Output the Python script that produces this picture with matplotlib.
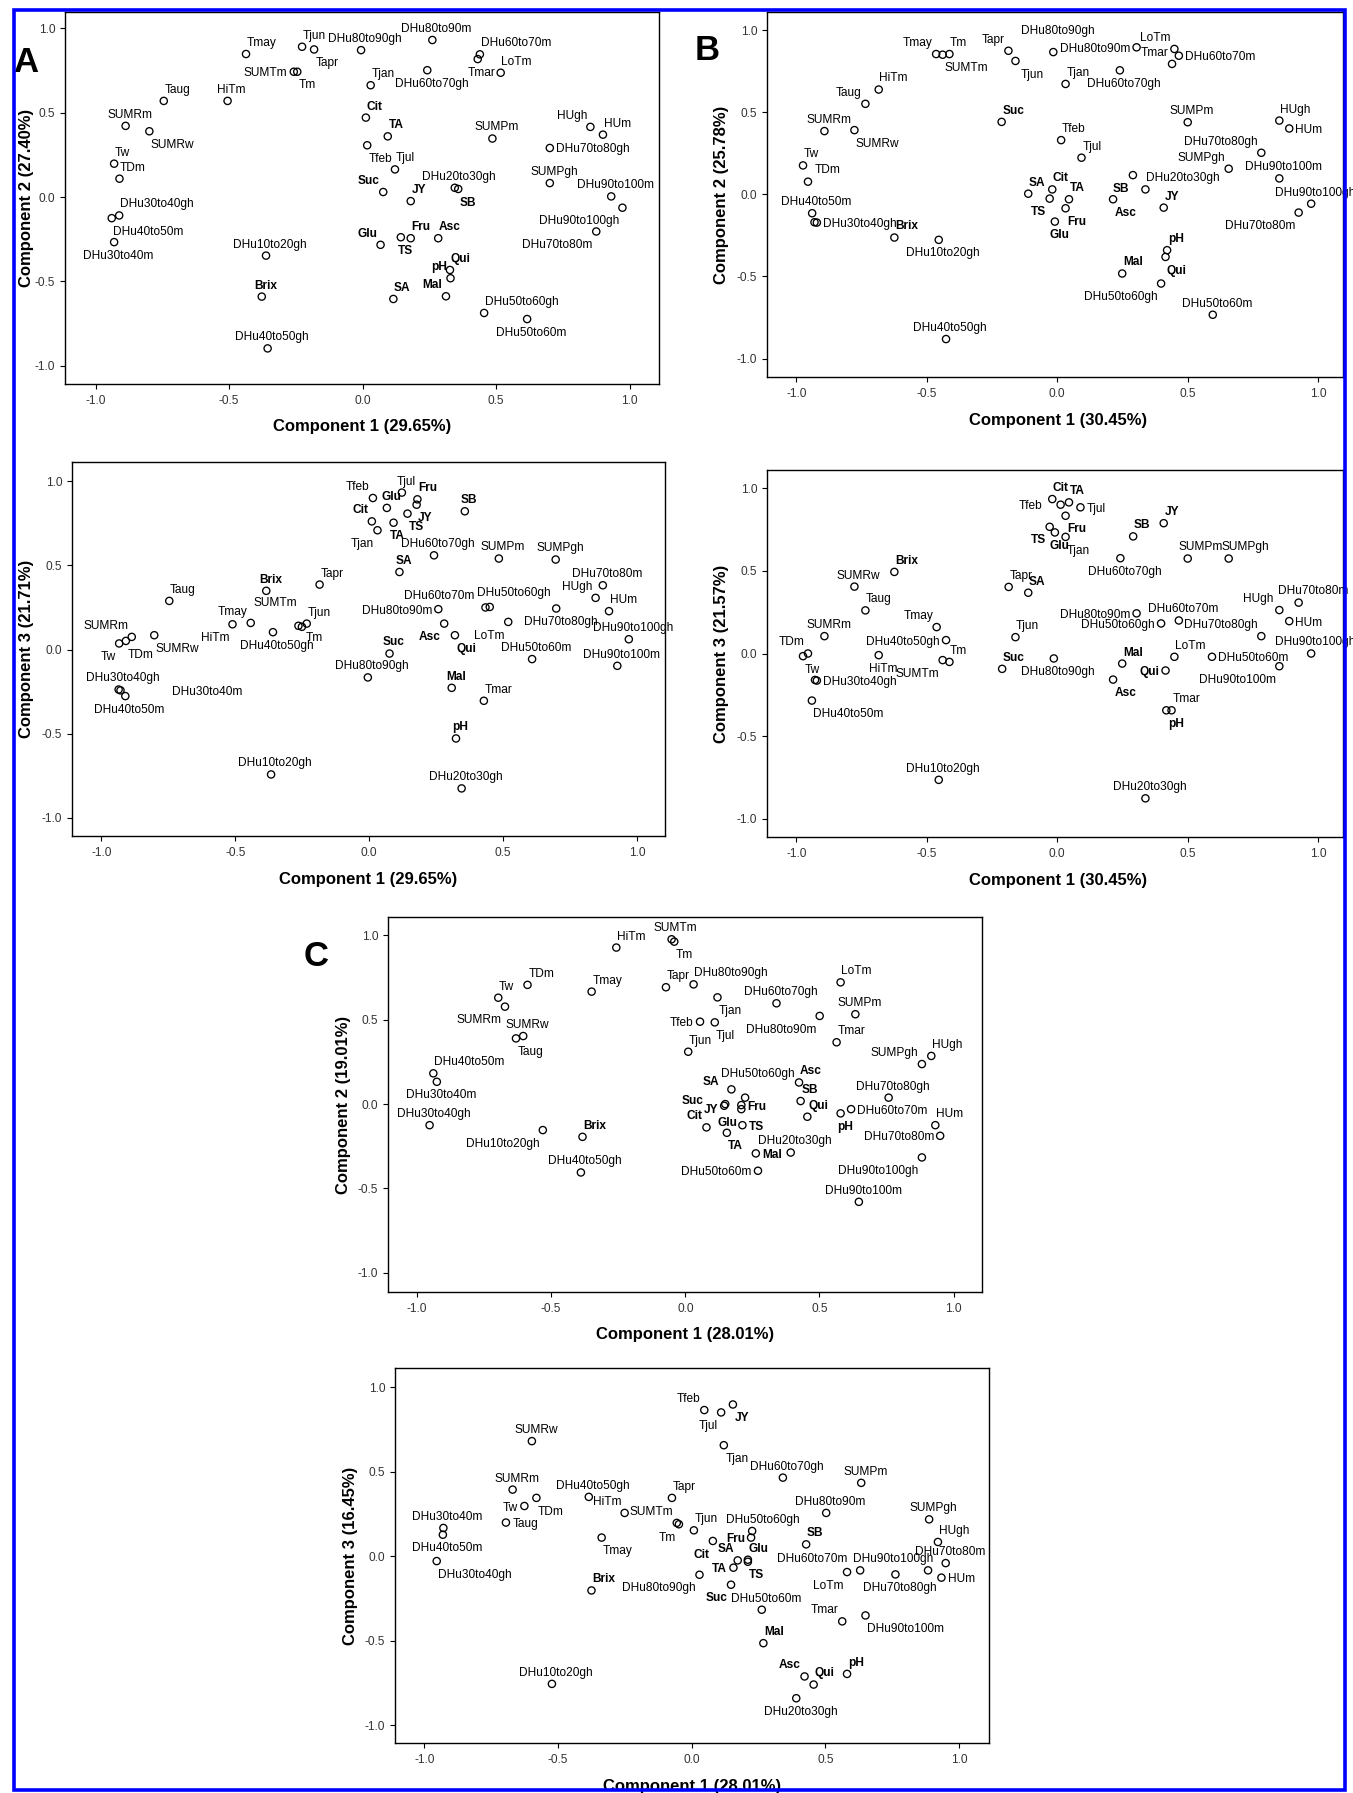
import matplotlib
matplotlib.use('Agg')
import matplotlib.pyplot as plt
from matplotlib.patches import Rectangle

W, H = 1353, 1793
plt.rcParams['font.family'] = ['Liberation Sans', 'DejaVu Sans']

names = ['Tjan', 'Tfeb', 'Tmar', 'Tapr', 'Tmay', 'Tjun', 'Tjul', 'Taug', 'Tm', 'Tw',
         'TDm', 'HiTm', 'LoTm', 'SUMTm', 'SUMRm', 'SUMRw', 'SUMPm', 'SUMPgh', 'HUm', 'HUgh',
         'DHu10to20gh', 'DHu20to30gh', 'DHu30to40m', 'DHu30to40gh', 'DHu40to50m',
         'DHu40to50gh', 'DHu50to60m', 'DHu50to60gh', 'DHu60to70m', 'DHu60to70gh',
         'DHu70to80m', 'DHu70to80gh', 'DHu80to90m', 'DHu80to90gh', 'DHu90to100m',
         'DHu90to100gh', 'Brix', 'TS', 'Glu', 'Fru', 'Suc', 'SB', 'TA', 'Cit', 'Mal',
         'Qui', 'Asc', 'SA', 'pH', 'JY']
bold = {'Brix', 'TS', 'Glu', 'Fru', 'Suc', 'SB', 'TA', 'Cit', 'Mal', 'Qui', 'Asc', 'SA', 'pH', 'JY'}

# --- A: component 1 vs component 2 / component 3
a1_x = [0.030, 0.017, 0.431, -0.182, -0.437, -0.227, 0.121, -0.745, -0.245, -0.931,
        -0.911, -0.506, 0.517, -0.258, -0.888, -0.799, 0.486, 0.701, 0.900, 0.853,
        -0.362, 0.345, -0.931, -0.912, -0.940, -0.356, 0.616, 0.455, 0.439, 0.242,
        0.875, 0.701, 0.261, -0.006, 0.931, 0.973, -0.378, 0.143, 0.067, 0.180,
        0.077, 0.358, 0.094, 0.012, 0.312, 0.327, 0.283, 0.115, 0.329, 0.180]
a1_y = [0.663, 0.307, 0.818, 0.875, 0.848, 0.891, 0.164, 0.570, 0.743, 0.198,
        0.109, 0.570, 0.737, 0.743, 0.422, 0.390, 0.347, 0.083, 0.370, 0.416,
        -0.347, 0.055, -0.267, -0.109, -0.125, -0.897, -0.723, -0.687, 0.846, 0.752,
        -0.204, 0.291, 0.931, 0.871, 0.004, -0.063, -0.590, -0.238, -0.283, -0.244,
        0.030, 0.048, 0.360, 0.471, -0.588, -0.432, -0.244, -0.604, -0.481, -0.024]
a2_x = [0.031, 0.014, 0.428, -0.185, -0.442, -0.233, 0.122, -0.746, -0.251, -0.933,
        -0.908, -0.510, 0.519, -0.264, -0.886, -0.802, 0.484, 0.696, 0.895, 0.845,
        -0.366, 0.345, -0.928, -0.935, -0.910, -0.359, 0.608, 0.450, 0.434, 0.242,
        0.872, 0.698, 0.258, -0.005, 0.926, 0.969, -0.384, 0.143, 0.066, 0.180,
        0.076, 0.357, 0.091, 0.010, 0.308, 0.320, 0.280, 0.113, 0.324, 0.177]
a2_y = [0.709, 0.901, -0.305, 0.386, 0.158, 0.154, 0.933, 0.289, 0.135, 0.036,
        0.051, 0.150, 0.164, 0.141, 0.075, 0.085, 0.541, 0.535, 0.228, 0.307,
        -0.743, -0.826, -0.243, -0.238, -0.277, 0.103, -0.057, 0.253, 0.250, 0.560,
        0.382, 0.244, 0.240, -0.166, -0.097, 0.061, 0.349, 0.808, 0.842, 0.893,
        -0.024, 0.822, 0.754, 0.762, -0.228, 0.085, 0.154, 0.461, -0.529, 0.861]

# --- B
b1_x = [0.032, 0.015, 0.440, -0.187, -0.464, -0.160, 0.093, -0.735, -0.413, -0.974,
        -0.955, -0.684, 0.449, -0.439, -0.892, -0.777, 0.500, 0.657, 0.889, 0.851,
        -0.454, 0.338, -0.930, -0.921, -0.939, -0.426, 0.596, 0.398, 0.466, 0.240,
        0.925, 0.782, 0.304, -0.015, 0.851, 0.973, -0.624, -0.029, -0.009, 0.032,
        -0.213, 0.290, 0.045, -0.019, 0.249, 0.415, 0.214, -0.111, 0.421, 0.408]
b1_y = [0.672, 0.330, 0.794, 0.874, 0.854, 0.812, 0.223, 0.551, 0.854, 0.176,
        0.077, 0.638, 0.885, 0.850, 0.385, 0.391, 0.439, 0.156, 0.401, 0.449,
        -0.277, 0.030, -0.170, -0.172, -0.115, -0.881, -0.733, -0.543, 0.844, 0.755,
        -0.111, 0.253, 0.895, 0.866, 0.097, -0.057, -0.263, -0.026, -0.166, -0.085,
        0.441, 0.117, -0.030, 0.030, -0.482, -0.381, -0.030, 0.004, -0.340, -0.081]
b2_x = [0.032, 0.013, 0.438, -0.186, -0.462, -0.160, 0.089, -0.735, -0.413, -0.974,
        -0.955, -0.684, 0.449, -0.439, -0.892, -0.777, 0.500, 0.657, 0.889, 0.851,
        -0.454, 0.338, -0.928, -0.921, -0.940, -0.426, 0.593, 0.398, 0.466, 0.242,
        0.925, 0.782, 0.304, -0.013, 0.851, 0.973, -0.624, -0.029, -0.009, 0.032,
        -0.211, 0.291, 0.045, -0.019, 0.249, 0.415, 0.214, -0.111, 0.418, 0.408]
b2_y = [0.706, 0.901, -0.344, 0.403, 0.160, 0.099, 0.885, 0.261, -0.051, -0.016,
        0.000, -0.010, -0.020, -0.040, 0.105, 0.405, 0.575, 0.575, 0.196, 0.263,
        -0.765, -0.877, -0.160, -0.164, -0.285, 0.081, -0.020, 0.182, 0.200, 0.577,
        0.308, 0.105, 0.243, -0.030, -0.077, 0.000, 0.494, 0.767, 0.733, 0.834,
        -0.093, 0.709, 0.915, 0.935, -0.061, -0.103, -0.158, 0.368, -0.344, 0.789]

# --- C
c1_x = [0.120, 0.055, 0.564, -0.072, -0.349, 0.011, 0.110, -0.631, -0.041, -0.697,
        -0.588, -0.257, 0.579, -0.051, -0.672, -0.604, 0.634, 0.882, 0.932, 0.917,
        -0.531, 0.393, -0.926, -0.953, -0.939, -0.389, 0.271, 0.223, 0.618, 0.340,
        0.950, 0.758, 0.501, 0.031, 0.647, 0.882, -0.383, 0.213, 0.209, 0.209,
        0.145, 0.430, 0.155, 0.079, 0.263, 0.455, 0.424, 0.172, 0.579, 0.149]
c1_y = [0.632, 0.488, 0.366, 0.692, 0.666, 0.310, 0.484, 0.389, 0.962, 0.630,
        0.706, 0.927, 0.721, 0.976, 0.577, 0.403, 0.532, 0.237, -0.125, 0.285,
        -0.154, -0.287, 0.132, -0.125, 0.182, -0.405, -0.395, 0.038, -0.030, 0.597,
        -0.188, 0.038, 0.522, 0.709, -0.579, -0.316, -0.194, -0.125, -0.030, -0.006,
        -0.010, 0.018, -0.170, -0.138, -0.292, -0.075, 0.128, 0.087, -0.055, 0.000]
c2_x = [0.120, 0.047, 0.563, -0.074, -0.337, 0.008, 0.110, -0.695, -0.048, -0.626,
        -0.581, -0.251, 0.581, -0.056, -0.670, -0.598, 0.634, 0.888, 0.934, 0.921,
        -0.523, 0.391, -0.929, -0.954, -0.931, -0.385, 0.262, 0.226, 0.630, 0.341,
        0.950, 0.762, 0.503, 0.029, 0.650, 0.884, -0.375, 0.210, 0.210, 0.222,
        0.147, 0.428, 0.156, 0.079, 0.268, 0.456, 0.422, 0.172, 0.581, 0.154]
c2_y = [0.658, 0.866, -0.385, 0.346, 0.111, 0.154, 0.852, 0.200, 0.190, 0.298,
        0.346, 0.257, -0.093, 0.198, 0.395, 0.682, 0.435, 0.219, -0.126, 0.085,
        -0.755, -0.840, 0.168, -0.028, 0.128, 0.352, -0.316, 0.150, -0.083, 0.466,
        -0.040, -0.107, 0.257, -0.109, -0.350, -0.083, -0.202, -0.032, -0.020, 0.111,
        -0.168, 0.071, -0.067, 0.091, -0.514, -0.759, -0.711, -0.024, -0.696, 0.899]

# label placement (offset points, ha, va)
OFF = {
    'N': (3, 5.8, 'center', 'baseline'),
    'NE': (0.5, 5.8, 'left', 'baseline'),
    'NW': (-2.5, 5.8, 'right', 'baseline'),
    'S': (3, -5.5, 'center', 'top'),
    'SE': (1, -5.5, 'left', 'top'),
    'SW': (-2.5, -5.5, 'right', 'top'),
    'E': (4.5, 0, 'left', 'center_baseline'),
    'W': (-4.5, 0, 'right', 'center_baseline'),
}


def codes(s):
    out = {}
    for tok in s.split():
        n, c = tok.split(':')
        out[n] = c
    return out


a1_lab = codes('Tjan:NE Tfeb:SE Tmar:S Tapr:SE Tmay:NE Tjun:NE Tjul:NE Taug:NE Tm:SE Tw:NE '
               'TDm:NE HiTm:N LoTm:NE SUMTm:W SUMRm:N SUMRw:SE SUMPm:N SUMPgh:N HUm:NE HUgh:NW '
               'DHu10to20gh:N DHu20to30gh:N DHu30to40m:S DHu30to40gh:NE DHu40to50m:SE '
               'DHu40to50gh:N DHu50to60m:S DHu50to60gh:NE DHu60to70m:NE DHu60to70gh:S '
               'DHu70to80m:SW DHu70to80gh:E DHu80to90m:N DHu80to90gh:N DHu90to100m:N '
               'DHu90to100gh:SW Brix:N TS:S Glu:NW Fru:NE Suc:NW SB:SE TA:NE Cit:NE Mal:NW '
               'Qui:NE Asc:NE SA:NE pH:NW JY:NE')
a2_lab = codes('Tjan:SW Tfeb:NW Tmar:NE Tapr:NE Tmay:NW Tjun:NE Tjul:N Taug:NE Tm:SE Tw:SW '
               'TDm:SE HiTm:SW LoTm:SW SUMTm:NW SUMRm:NW SUMRw:SE SUMPm:N SUMPgh:N HUm:NE HUgh:NW '
               'DHu10to20gh:N DHu20to30gh:N DHu30to40m:E DHu30to40gh:N DHu40to50m:S '
               'DHu40to50gh:S DHu50to60m:N DHu50to60gh:N DHu60to70m:NW DHu60to70gh:N '
               'DHu70to80m:N DHu70to80gh:S DHu80to90m:W DHu80to90gh:N DHu90to100m:N '
               'DHu90to100gh:N Brix:N TS:SE Glu:N Fru:NE Suc:N SB:N TA:S Cit:NW Mal:N '
               'Qui:SE Asc:SW SA:N pH:N JY:SE')
a2_lab['DHu30to40m'] = (37, 0, 'left', 'center_baseline')
a2_lab['SUMTm'] = (-1, 14, 'right', 'baseline')
a2_lab['DHu60to70m'] = (-8, 6, 'right', 'baseline')
a2_lab['DHu50to60gh'] = (-9, 8, 'left', 'baseline')
a2_lab['Tm'] = (3, -4, 'left', 'top')
b1_lab = codes('Tjan:NE Tfeb:NE Tmar:NW Tapr:NW Tmay:NW Tjun:SE Tjul:NE Taug:NW Tm:NE Tw:NE '
               'TDm:NE HiTm:NE LoTm:NW SUMTm:SE SUMRm:N SUMRw:SE SUMPm:N SUMPgh:NW HUm:E HUgh:NE '
               'DHu10to20gh:S DHu20to30gh:NE DHu30to40gh:E DHu40to50m:N '
               'DHu40to50gh:N DHu50to60m:N DHu50to60gh:SW DHu60to70m:E DHu60to70gh:S '
               'DHu70to80m:SW DHu70to80gh:NW DHu80to90m:W DHu80to90gh:N DHu90to100m:N '
               'DHu90to100gh:N Brix:NE TS:SW Glu:S Fru:SE Suc:NE SB:SW TA:NE Cit:NE Mal:NE '
               'Qui:SE Asc:SE SA:NE pH:NE JY:NE')
b1_lab['DHu30to40m'] = None
b1_lab['TDm'] = (5, 6.5, 'left', 'baseline')
b1_lab['DHu80to90gh'] = (3, 13, 'center', 'baseline')
b1_lab['Tjun'] = (4, -5.5, 'left', 'top')
b2_lab = codes('Tjan:SE Tfeb:W Tmar:NE Tapr:NE Tmay:NW Tjun:NE Tjul:E Taug:NE Tm:NE Tw:SE '
               'TDm:NW HiTm:S LoTm:NE SUMTm:SW SUMRm:N SUMRw:N SUMPm:N SUMPgh:N HUm:E HUgh:NW '
               'DHu10to20gh:N DHu20to30gh:N DHu30to40gh:E DHu40to50m:SE '
               'DHu40to50gh:W DHu50to60m:E DHu50to60gh:W DHu60to70m:N DHu60to70gh:S '
               'DHu70to80m:N DHu70to80gh:NW DHu80to90m:W DHu80to90gh:S DHu90to100m:SW '
               'DHu90to100gh:N Brix:NE TS:SW Glu:S Fru:SE Suc:NE SB:NE TA:NE Cit:NE Mal:NE '
               'Qui:W Asc:SE SA:NE pH:SE JY:NE')
b2_lab['DHu30to40m'] = None
b2_lab['Tfeb'] = (-13, 0, 'right', 'center_baseline')
b2_lab['SUMPm'] = (-6.5, 5.8, 'left', 'baseline')
b2_lab['SUMPgh'] = (-5, 5.8, 'left', 'baseline')
b2_lab['HUgh'] = (-4, 5.8, 'right', 'baseline')
b2_lab['DHu70to80m'] = (-15, 6.5, 'left', 'baseline')
c1_lab = codes('Tjan:SE Tfeb:W Tmar:NE Tapr:NE Tmay:NE Tjun:NE Tjul:SE Taug:SE Tm:SE Tw:NE '
               'TDm:NE HiTm:NE LoTm:NE SUMTm:N SUMRm:SW SUMRw:N SUMPm:N SUMPgh:NW HUm:NE HUgh:NE '
               'DHu10to20gh:SW DHu20to30gh:N DHu30to40m:S DHu30to40gh:N DHu40to50m:NE '
               'DHu40to50gh:N DHu50to60m:W DHu50to60gh:N DHu60to70m:E DHu60to70gh:N '
               'DHu70to80m:W DHu70to80gh:N DHu80to90m:SW DHu80to90gh:NE DHu90to100m:N '
               'DHu90to100gh:SW Brix:NE TS:E Glu:SW Fru:E Suc:NW SB:NE TA:SE Cit:NW Mal:E '
               'Qui:NE Asc:NE SA:NW pH:S JY:W')
c1_lab['DHu50to60gh'] = (-17, 15, 'left', 'baseline')
c1_lab['SA'] = (-9, 3.5, 'right', 'baseline')
c1_lab['Suc'] = (-15, 1.5, 'right', 'baseline')
c1_lab['JY'] = (-5, -3, 'right', 'center_baseline')
c2_lab = codes('Tjan:SE Tfeb:NW Tmar:NW Tapr:NE Tmay:SE Tjun:NE Tjul:SW Taug:E Tm:SW Tw:W '
               'TDm:SE HiTm:NW LoTm:SW SUMTm:NW SUMRm:N SUMRw:N SUMPm:N SUMPgh:N HUm:E HUgh:NE '
               'DHu10to20gh:N DHu20to30gh:S DHu30to40m:N DHu30to40gh:SE DHu40to50m:S '
               'DHu40to50gh:N DHu50to60m:N DHu50to60gh:N DHu60to70m:NW DHu60to70gh:N '
               'DHu70to80m:N DHu70to80gh:S DHu80to90m:N DHu80to90gh:SW DHu90to100m:SE '
               'DHu90to100gh:NW Brix:NE TS:SE Glu:NE Fru:W Suc:SW SB:NE TA:W Cit:SW Mal:NE '
               'Qui:NE Asc:NW SA:NW pH:NE JY:SE')
c2_lab['DHu60to70m'] = (-9, 5.8, 'right', 'baseline')
c2_lab['DHu90to100gh'] = (3.5, 5.8, 'right', 'baseline')
c2_lab['DHu50to60gh'] = (-18.5, 5.8, 'left', 'baseline')

fig = plt.figure(figsize=(W / 100, H / 100), dpi=100)
fig.patch.set_facecolor('white')


def panel(rect, xs, ys, labs, xlim, ylim, xlabel, ylabel, xl_xy, yl_x):
    l, t, r, b = rect
    ax = fig.add_axes([l / W, 1 - b / H, (r - l) / W, (b - t) / H])
    ax.scatter(xs, ys, s=27, facecolors='none', edgecolors='black',
               linewidths=0.95, zorder=3)
    for n, x, y in zip(names, xs, ys):
        code = labs.get(n, 'N')
        if code is None:
            continue
        dx, dy, ha, va = code if isinstance(code, tuple) else OFF[code]
        ax.annotate(n, (x, y), xytext=(dx, dy), textcoords='offset points',
                    ha=ha, va=va, fontsize=8.6, color='black',
                    fontweight='bold' if n in bold else 'normal', zorder=4)
    ax.set_xlim(*xlim)
    ax.set_ylim(*ylim)
    ticks = [-1.0, -0.5, 0.0, 0.5, 1.0]
    ax.set_xticks(ticks)
    ax.set_yticks(ticks)
    ax.set_xticklabels(['%.1f' % v for v in ticks])
    ax.set_yticklabels(['%.1f' % v for v in ticks])
    ax.tick_params(direction='out', length=3.5, width=0.8, labelsize=8.6,
                   labelcolor='#333333')
    ax.tick_params(axis='x', pad=4.5)
    ax.tick_params(axis='y', pad=3.5)
    for sp in ax.spines.values():
        sp.set_linewidth(1.0)
        sp.set_color('black')
    fig.text(xl_xy[0] / W, 1 - xl_xy[1] / H, xlabel, ha='center', va='center',
             fontsize=12, fontweight='bold')
    fig.text(yl_x / W, 1 - (t + b) / 2 / H, ylabel, ha='center', va='center',
             rotation=90, fontsize=12, fontweight='bold')
    return ax


panel((65, 12, 659, 384), a1_x, a1_y, a1_lab, (-1.115, 1.11), (-1.108, 1.097),
      'Component 1 (29.65%)', 'Component 2 (27.40%)', (362, 427), 26)
panel((767, 12, 1343, 377), b1_x, b1_y, b1_lab, (-1.112, 1.095), (-1.112, 1.11),
      'Component 1 (30.45%)', 'Component 2 (25.78%)', (1058, 421), 722)
panel((72, 462, 665, 836), a2_x, a2_y, a2_lab, (-1.109, 1.104), (-1.109, 1.115),
      'Component 1 (29.65%)', 'Component 3 (21.71%)', (368, 879), 27)
panel((767, 470, 1343, 837), b2_x, b2_y, b2_lab, (-1.112, 1.095), (-1.111, 1.111),
      'Component 1 (30.45%)', 'Component 3 (21.57%)', (1058, 880), 722)
panel((388, 917, 982, 1292), c1_x, c1_y, c1_lab, (-1.108, 1.106), (-1.113, 1.108),
      'Component 1 (28.01%)', 'Component 2 (19.01%)', (685, 1335), 343)
panel((395, 1368, 989, 1743), c2_x, c2_y, c2_lab, (-1.11, 1.112), (-1.105, 1.115),
      'Component 1 (28.01%)', 'Component 3 (16.45%)', (692, 1787), 350)

# panel letters
for letter, (px, py) in {'A': (26, 63), 'B': (707, 51), 'C': (316, 957)}.items():
    fig.text(px / W, 1 - py / H, letter, ha='center', va='center',
             fontsize=25, fontweight='bold')

# blue frame around the whole figure
fig.patches.append(Rectangle((13.5 / W, 1 - 1790 / H), (1344.5 - 13.5) / W, (1790 - 9.5) / H,
                             transform=fig.transFigure, fill=False,
                             edgecolor='#0000FF', linewidth=2.6, zorder=10))

fig.savefig('out.png', dpi=100, facecolor='white')
